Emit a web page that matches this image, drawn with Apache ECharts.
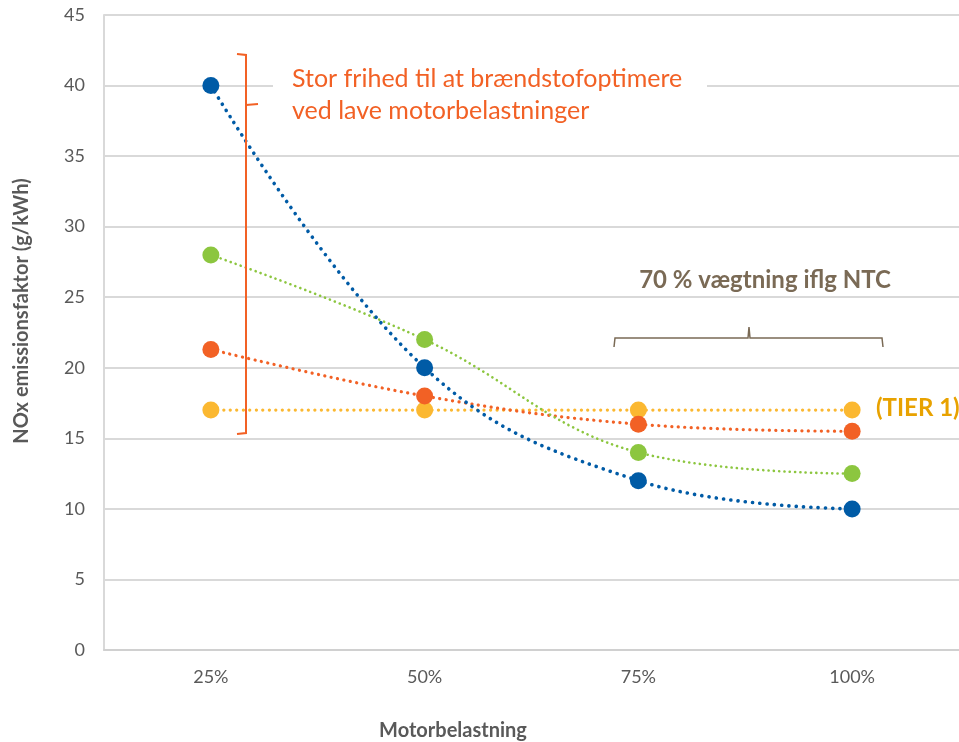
<!DOCTYPE html>
<html>
<head>
<meta charset="utf-8">
<script src="https://cdn.jsdelivr.net/npm/echarts@6/dist/echarts.min.js"></script>
<style>
  html, body { margin: 0; padding: 0; background: #fff; }
  #chart { width: 959px; height: 742px; }
</style>
</head>
<body>
<div id="chart"></div>
<script>
  // motorbelastning
  var categories = ['25%', '50%', '75%', '100%'];
  var blueValues = [40, 20, 12, 10];
  var greenValues = [28, 22, 14, 12.5];
  var orangeValues = [21.3, 18, 16, 15.5];
  var tierValues = [17, 17, 17, 17];

  var font = 'Lato, "Open Sans", sans-serif';

  function dotted(name, data, color, width, z) {
    return {
      name: name,
      type: 'line',
      data: data,
      smooth: 0.4,
      symbol: 'circle',
      symbolSize: 17,
      z: z,
      itemStyle: { color: color },
      lineStyle: { color: color, width: width, type: [0.1, width * 2], cap: 'round' }
    };
  }

  var chart = echarts.init(document.getElementById('chart'));
  chart.setOption({
    animation: false,
    grid: { left: 104, right: 0, top: 15, bottom: 92 },
    xAxis: {
      type: 'category',
      data: categories,
      axisLine: { lineStyle: { color: '#d0d0d0', width: 2 } },
      axisTick: { inside: true, length: 6, lineStyle: { color: '#d9d9d9' } },
      axisLabel: { color: '#595959', fontSize: 18, fontFamily: font, margin: 18 }
    },
    yAxis: {
      type: 'value',
      min: 0,
      max: 45,
      interval: 5,
      axisLine: { show: true, lineStyle: { color: '#d9d9d9', width: 2 } },
      axisTick: { show: false },
      splitLine: { lineStyle: { color: '#d9d9d9', width: 2 } },
      axisLabel: { color: '#595959', fontSize: 18, fontFamily: font, margin: 19 }
    },
    series: [
      dotted('TIER 1', tierValues, '#fbb831', 3.2, 3),
      dotted('Orange', orangeValues, '#f26125', 3.2, 4),
      dotted('Grøn', greenValues, '#8cc63f', 2.6, 5),
      dotted('Blå', blueValues, '#005ba6', 3.6, 6)
    ],
    graphic: [
      // hvid baggrund bag tekstboksen
      { type: 'rect', z: 1, shape: { x: 273, y: 62, width: 434, height: 66 }, style: { fill: '#fff' } },
      {
        type: 'text', z: 10, left: 292, top: 63,
        style: {
          text: 'Stor frihed til at brændstofoptimere\nved lave motorbelastninger',
          fill: '#f26125', font: '25px ' + font, lineHeight: 32
        }
      },
      // orange klamme
      {
        type: 'polyline', z: 10,
        shape: { points: [[237, 54], [246, 55], [246, 433], [237, 434]] },
        style: { stroke: '#f26125', lineWidth: 2, fill: null }
      },
      {
        type: 'line', z: 10,
        shape: { x1: 246, y1: 105, x2: 258, y2: 104 },
        style: { stroke: '#f26125', lineWidth: 2 }
      },
      // brun klamme
      {
        type: 'polyline', z: 10,
        shape: { points: [[614, 347], [615, 338], [748, 338], [749, 327], [750, 338], [882, 338], [883, 347]] },
        style: { stroke: '#7a6a55', lineWidth: 1.5, fill: null }
      },
      {
        type: 'text', z: 10, x: 765, y: 280,
        style: {
          text: '70 % vægtning iflg NTC', fill: '#7a6a55',
          font: 'bold 24px ' + font, textAlign: 'center', textVerticalAlign: 'middle'
        }
      },
      {
        type: 'text', z: 10, x: 876, y: 408,
        style: {
          text: '(TIER 1)', fill: '#e8a200',
          font: 'bold 24px ' + font, textAlign: 'left', textVerticalAlign: 'middle'
        }
      },
      {
        type: 'text', z: 10, x: 453, y: 731,
        style: {
          text: 'Motorbelastning', fill: '#595959',
          font: 'bold 20px ' + font, textAlign: 'center', textVerticalAlign: 'middle'
        }
      },
      {
        type: 'text', z: 10, x: 22, y: 311, rotation: Math.PI / 2,
        style: {
          text: 'NOx emissionsfaktor (g/kWh)', fill: '#595959',
          font: 'bold 20px ' + font, textAlign: 'center', textVerticalAlign: 'middle'
        }
      }
    ]
  });
</script>
</body>
</html>
